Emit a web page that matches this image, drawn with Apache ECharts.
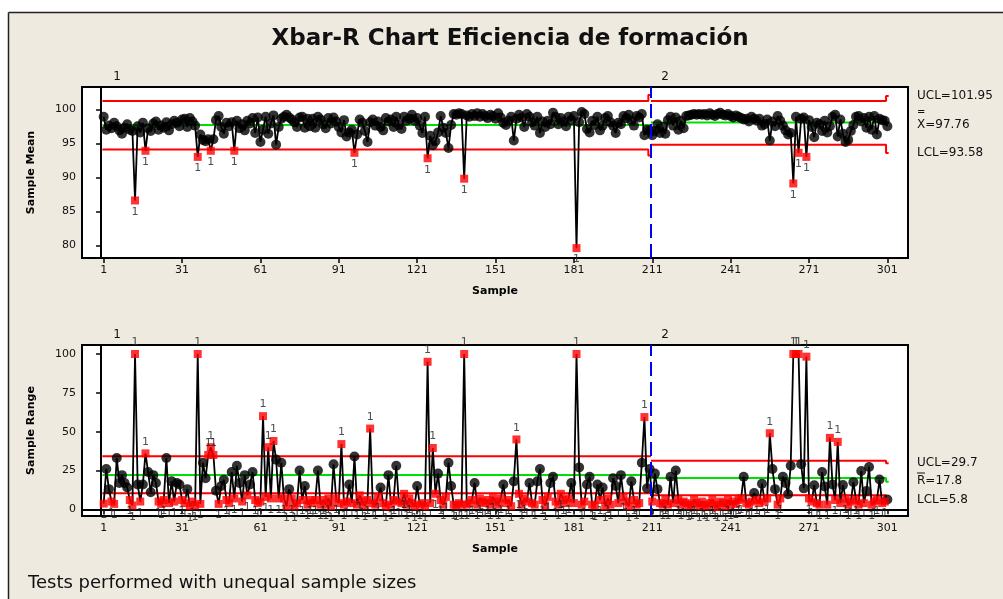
<!DOCTYPE html>
<html>
<head>
<meta charset="utf-8">
<script src="https://cdn.jsdelivr.net/npm/echarts@6/dist/echarts.min.js"></script>
<style>
  html, body { margin: 0; padding: 0; background: #fff; }
  #chart { width: 1003px; height: 599px; }
</style>
</head>
<body>
<div id="chart"></div>
<script>
// sample means, samples 1..301
const sampleMeans = [
  98.9, 97.0, 97.6, 97.2, 98.0, 97.5, 96.9, 96.4, 97.3, 97.8,
  97.0, 96.8, 86.6, 97.5, 96.6, 98.0, 93.9, 97.2, 96.8, 97.9,
  98.2, 97.0, 97.6, 97.3, 98.1, 96.9, 97.8, 98.3, 98.0, 97.5,
  98.5, 98.6, 97.4, 98.7, 98.2, 97.6, 93.0, 96.3, 95.5, 95.3,
  95.6, 93.9, 95.6, 98.4, 99.0, 97.4, 96.4, 98.0, 97.5, 98.1,
  93.9, 98.3, 97.2, 97.8, 96.9, 98.3, 97.9, 98.7, 96.5, 98.8,
  95.2, 97.0, 98.9, 96.4, 97.9, 99.1, 94.8, 97.4, 98.6, 98.9,
  99.2, 98.8, 98.5, 98.1, 97.4, 98.8, 98.9, 97.3, 98.6, 97.5,
  98.6, 97.3, 98.9, 98.5, 97.8, 97.2, 98.7, 97.9, 98.8, 98.2,
  97.4, 96.6, 98.4, 96.0, 96.6, 97.0, 93.6, 96.3, 98.5, 98.0,
  96.8, 95.2, 98.1, 98.5, 97.6, 98.2, 97.4, 96.9, 98.7, 98.2,
  98.5, 97.4, 98.9, 97.7, 97.1, 98.9, 98.3, 98.6, 99.2, 98.3,
  98.7, 97.6, 96.5, 98.9, 92.8, 96.1, 94.7, 95.3, 96.6, 99.0,
  97.3, 96.5, 94.3, 97.7, 99.3, 99.2, 99.4, 99.3, 89.8, 99.1,
  98.9, 99.3, 99.0, 99.4, 98.9, 99.3, 99.0, 98.7, 99.2, 99.0,
  98.6, 99.4, 98.8, 98.0, 97.7, 98.3, 98.9, 95.4, 98.6, 99.2,
  98.8, 97.4, 99.3, 98.9, 98.1, 97.6, 98.9, 96.5, 98.2, 97.4,
  98.3, 97.8, 99.5, 98.9, 97.8, 98.7, 98.2, 97.5, 98.9, 98.4,
  99.0, 79.6, 98.1, 99.6, 99.3, 97.1, 96.6, 98.3, 97.7, 98.9,
  96.9, 97.6, 98.7, 99.0, 98.1, 97.6, 96.5, 98.0, 97.8, 99.0,
  98.7, 99.2, 98.3, 97.6, 99.0, 98.8, 99.3, 96.2, 97.0, 96.9,
  96.2, 96.8, 97.8, 96.5, 97.4, 96.4, 98.4, 98.9, 97.6, 98.8,
  97.0, 98.3, 97.2, 99.0, 99.1, 99.2, 99.3, 99.2, 99.3, 99.2,
  99.3, 99.1, 99.4, 99.2, 99.0, 99.3, 99.5, 99.2, 99.1, 99.3,
  99.0, 98.8, 99.1, 98.9, 98.7, 98.5, 98.6, 98.2, 98.9, 98.6,
  98.3, 98.6, 97.6, 97.8, 98.5, 95.4, 98.2, 97.5, 99.0, 98.3,
  97.6, 96.9, 96.3, 96.5, 89.1, 98.9, 93.6, 98.6, 98.8, 93.0,
  98.4, 97.4, 95.9, 98.0, 97.8, 96.8, 98.3, 96.6, 97.5, 98.9,
  99.2, 96.0, 98.5, 96.4, 95.2, 95.5, 96.8, 97.7, 98.9, 99.0,
  98.2, 98.7, 97.3, 98.9, 97.0, 99.0, 96.3, 98.6, 98.4, 98.3,
  97.5
];

// sample ranges, samples 1..301
const sampleRanges = [
  3.7, 26, 13, 5, 3.5, 33, 17, 22, 17, 14,
  6, 2.5, 100, 16, 5, 16, 36, 24, 11, 22,
  17, 5, 3.5, 6, 33, 4, 18, 5, 17, 16,
  6, 4, 13, 2, 5, 2.5, 100, 3.5, 30, 20,
  35, 40, 35, 12, 3.5, 15, 19, 6, 4, 24,
  7, 28, 17, 5, 22, 9, 16, 24, 6, 4,
  5, 60, 8, 40, 7, 44, 32, 7, 30, 7,
  2, 13, 7, 2, 4, 25, 6, 15, 3, 6,
  4, 6, 25, 3, 6, 3, 7, 2, 29, 7,
  4, 42, 3, 5, 16, 4, 34, 3, 9, 5,
  2.5, 6, 52, 4, 3, 8, 14, 4, 2, 22,
  3, 6, 28, 5, 4, 10, 3, 7, 4, 2,
  15, 3, 4, 2, 95, 4, 39.5, 10, 23, 6,
  3, 8, 30, 15, 3, 2.5, 4, 3, 100, 3,
  4, 6, 17, 3, 7, 5, 4, 6, 3, 8,
  5, 3, 7, 16, 4, 6, 2, 18, 45, 10,
  3, 7, 5, 17, 4, 3, 18, 26, 6, 2.5,
  8, 17, 21, 5, 3, 10, 6, 4, 7, 17,
  4, 100, 27, 3, 5, 16, 21, 3, 2.5, 16,
  6, 14, 2, 7, 3, 20, 15, 4, 22, 8,
  5, 2, 18, 6, 3, 4, 30, 59.4, 13.5, 26,
  5, 23, 13, 4, 3, 6, 3, 21, 4, 25,
  6, 3, 5, 4, 2.5, 3, 6, 4, 2, 5,
  3, 2, 4, 6, 3, 1.5, 5, 4, 2, 6,
  3, 5, 3.5, 6, 7, 21, 4, 3, 5, 10.5,
  6, 4, 16.5, 5, 7, 49, 26, 13, 3, 7,
  21, 17, 9.7, 28, 100, 100, 100, 29, 13.5, 98.3,
  7, 5, 15.5, 4, 3, 24, 14.7, 3, 46, 16,
  6, 43.4, 4, 15.6, 7, 3, 5, 17.5, 6, 3,
  24.7, 4, 11.8, 27.3, 3, 5, 6, 19.2, 4, 5,
  6.3
];

// stages (historical groups)
const stageNames = ['1', '2'];
const stageStart = [1, 211];
const stageEnd = [210, 301];

// control limits per stage, and the limits of the last sample of each stage
const meanUCL = [101.2, 101.2];
const meanCL = [97.7, 98.05];
const meanLCL = [94.1, 94.8];
const meanUCLLast = [102.1, 101.95];
const meanCLLast = [97.7, 98.05];
const meanLCLLast = [93.2, 93.58];

const rangeUCL = [34.2, 31.2];
const rangeCL = [22.1, 20.2];
const rangeLCL = [10.3, 9.0];
const rangeUCLLast = [34.2, 29.7];
const rangeCLLast = [22.1, 17.8];
const rangeLCLLast = [10.3, 5.8];

// limit labels printed at the right
const meanLimitText = ['UCL=101.95', 'X=97.76', 'LCL=93.58'];
const rangeLimitText = ['UCL=29.7', 'R=17.8', 'LCL=5.8'];

const xTicks = [1, 31, 61, 91, 121, 151, 181, 211, 241, 271, 301];
const meanTicks = [80, 85, 90, 95, 100];
const rangeTicks = [0, 25, 50, 75, 100];

const FONT = "'DejaVu Sans', sans-serif";
const chart = echarts.init(document.getElementById('chart'));

function stageOf(i) {
  return i >= stageStart[1] ? 1 : 0;
}
function limitAt(levels, lastLevels, i) {
  const s = stageOf(i);
  return i === stageEnd[s] ? lastLevels[s] : levels[s];
}

function limitSeries(levels, lastLevels, color, g) {
  return stageNames.map((name, s) => ({
    type: 'line',
    xAxisIndex: g,
    yAxisIndex: g,
    silent: true,
    symbol: 'none',
    z: 2,
    lineStyle: { color: color, width: 2 },
    data: [
      [stageStart[s] - 0.5, levels[s]],
      [stageEnd[s] - 0.5, levels[s]],
      [stageEnd[s] - 0.5, lastLevels[s]],
      [stageEnd[s] + 0.5, lastLevels[s]],
    ],
  }));
}

function chartSeries(values, ucl, cl, lcl, uclLast, clLast, lclLast, g) {
  const pts = values.map((v, i) => [i + 1, v]);
  const normal = [];
  const flagged = [];
  pts.forEach((p) => {
    const hi = limitAt(ucl, uclLast, p[0]);
    const lo = limitAt(lcl, lclLast, p[0]);
    if (p[1] > hi || p[1] < lo)
      flagged.push({ value: p, label: { position: p[1] > hi ? 'top' : 'bottom' } });
    else
      normal.push(p);
  });
  return [
    ...limitSeries(ucl, uclLast, '#ff0000', g),
    ...limitSeries(cl, clLast, '#00e000', g),
    ...limitSeries(lcl, lclLast, '#ff0000', g),
    {
      type: 'line',
      xAxisIndex: g,
      yAxisIndex: g,
      showSymbol: false,
      silent: true,
      z: 3,
      lineStyle: { color: '#000', width: 1.8 },
      data: pts,
      markLine: {
        silent: true,
        symbol: ['none', 'none'],
        label: { show: false },
        lineStyle: { color: '#0000ff', type: [14, 6], width: 2 },
        data: [{ xAxis: stageEnd[0] + 0.5 }],
      },
    },
    {
      type: 'scatter',
      xAxisIndex: g,
      yAxisIndex: g,
      symbol: 'circle',
      symbolSize: 10,
      z: 4,
      itemStyle: { color: '#000' },
      data: normal,
    },
    {
      type: 'scatter',
      xAxisIndex: g,
      yAxisIndex: g,
      symbol: 'rect',
      symbolSize: 8,
      z: 5,
      itemStyle: { color: '#ff0000' },
      label: {
        show: true,
        formatter: '1',
        distance: 2,
        color: '#222',
        fontSize: 11,
        fontFamily: FONT,
      },
      data: flagged,
    },
  ];
}

function xAxis(g) {
  return {
    type: 'value',
    gridIndex: g,
    min: -7.3,
    max: 308.9,
    name: 'Sample',
    nameLocation: 'middle',
    nameGap: 28,
    nameTextStyle: { fontFamily: FONT, fontWeight: 'bold', fontSize: 11, color: '#000' },
    axisLine: { show: true, lineStyle: { color: '#000', width: 2 } },
    axisTick: { show: true, customValues: xTicks, length: 5, lineStyle: { color: '#000', width: 1.5 } },
    axisLabel: { customValues: xTicks, color: '#111', fontSize: 11, fontFamily: FONT, margin: 7 },
    splitLine: { show: false },
  };
}

function yAxis(g, min, max, ticks, name) {
  return {
    type: 'value',
    gridIndex: g,
    min: min,
    max: max,
    name: name,
    nameLocation: 'middle',
    nameGap: 45,
    nameTextStyle: { fontFamily: FONT, fontWeight: 'bold', fontSize: 11, color: '#000' },
    axisLine: { show: true, lineStyle: { color: '#000', width: 2 } },
    axisTick: { show: true, customValues: ticks, length: 5, lineStyle: { color: '#000', width: 1.5 } },
    axisLabel: { customValues: ticks, color: '#111', fontSize: 11, fontFamily: FONT, margin: 6 },
    splitLine: { show: false },
  };
}

function txt(x, y, text, opts) {
  return {
    type: 'text',
    x: x,
    y: y,
    silent: true,
    style: Object.assign({
      text: text,
      fill: '#111',
      font: '12px ' + FONT,
      textVerticalAlign: 'middle',
    }, opts || {}),
  };
}

const option = {
  animation: false,
  backgroundColor: '#eeeae0',
  grid: [
    { left: 82, right: 95, top: 87, height: 171, show: true, backgroundColor: '#fff', borderColor: '#000', borderWidth: 2 },
    { left: 82, right: 95, top: 345, height: 171, show: true, backgroundColor: '#fff', borderColor: '#000', borderWidth: 2 },
  ],
  xAxis: [xAxis(0), xAxis(1)],
  yAxis: [
    yAxis(0, 78.15, 103.27, meanTicks, 'Sample Mean'),
    yAxis(1, -4.3, 105.8, rangeTicks, 'Sample Range'),
  ],
  series: [
    ...chartSeries(sampleMeans, meanUCL, meanCL, meanLCL, meanUCLLast, meanCLLast, meanLCLLast, 0),
    ...chartSeries(sampleRanges, rangeUCL, rangeCL, rangeLCL, rangeUCLLast, rangeCLLast, rangeLCLLast, 1),
  ],
  graphic: [
    // white margin and outer frame
    { type: 'rect', shape: { x: 0, y: 0, width: 1003, height: 12 }, style: { fill: '#fff' }, silent: true },
    { type: 'rect', shape: { x: 0, y: 0, width: 8, height: 599 }, style: { fill: '#fff' }, silent: true },
    { type: 'line', shape: { x1: 8.5, y1: 12.5, x2: 1003, y2: 12.5 }, style: { stroke: '#222', lineWidth: 1.5 }, silent: true },
    { type: 'line', shape: { x1: 8.5, y1: 12.5, x2: 8.5, y2: 599 }, style: { stroke: '#222', lineWidth: 1.5 }, silent: true },
    txt(510, 39, 'Xbar-R Chart Eficiencia de formación', { font: 'bold 23px ' + FONT, textAlign: 'center', fill: '#111' }),
    // stage labels
    txt(117, 77, stageNames[0], { textAlign: 'center' }),
    txt(665, 77, stageNames[1], { textAlign: 'center' }),
    txt(117, 335, stageNames[0], { textAlign: 'center' }),
    txt(665, 335, stageNames[1], { textAlign: 'center' }),
    // limit values
    txt(917, 96, meanLimitText[0]),
    txt(917, 112, '=', { font: '10px ' + FONT }),
    txt(917, 125, meanLimitText[1]),
    txt(917, 153, meanLimitText[2]),
    txt(917, 463, rangeLimitText[0]),
    { type: 'line', shape: { x1: 917, y1: 473, x2: 925, y2: 473 }, style: { stroke: '#111', lineWidth: 1 }, silent: true },
    txt(917, 481, rangeLimitText[1]),
    txt(917, 500, rangeLimitText[2]),
    txt(28, 583, 'Tests performed with unequal sample sizes', { font: '18px ' + FONT, fill: '#111' }),
  ],
};
chart.setOption(option);
</script>
</body>
</html>
